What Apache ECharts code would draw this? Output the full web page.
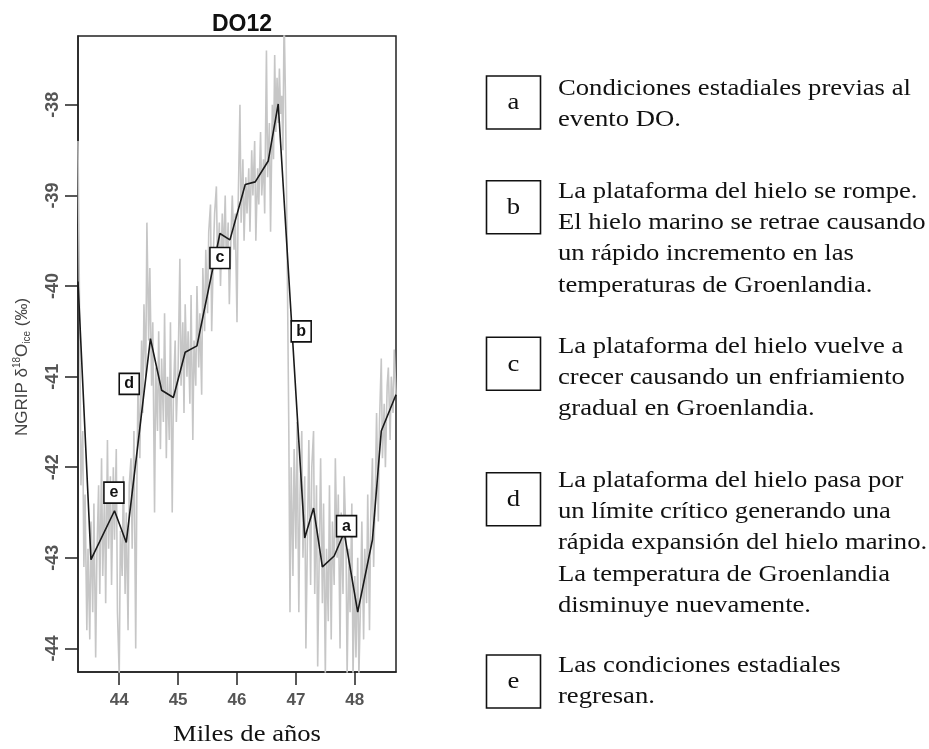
<!DOCTYPE html>
<html>
<head>
<meta charset="utf-8">
<script src="https://cdn.jsdelivr.net/npm/echarts@6/dist/echarts.min.js"></script>
<style>html,body{margin:0;padding:0;background:#fff;}#c{width:929px;height:749px;}</style>
</head>
<body>
<div id="c"></div>
<script>
// ---- data ----
var xTicks = [44, 45, 46, 47, 48];
var yTicks = [-44, -43, -42, -41, -40, -39, -38];

var grayX = [43.30,43.33,43.35,43.38,43.40,43.42,43.45,43.47,43.50,43.52,43.55,43.57,43.60,43.62,43.65,43.67,43.70,43.72,43.75,43.77,43.80,43.82,43.85,43.87,43.90,43.92,43.95,43.97,44.00,44.02,44.05,44.07,44.10,44.12,44.15,44.17,44.20,44.22,44.25,44.28,44.30,44.32,44.35,44.38,44.40,44.42,44.45,44.47,44.50,44.52,44.55,44.57,44.60,44.62,44.65,44.67,44.70,44.72,44.75,44.77,44.80,44.82,44.85,44.87,44.90,44.92,44.95,44.97,45.00,45.03,45.05,45.08,45.10,45.12,45.15,45.17,45.20,45.22,45.25,45.27,45.30,45.32,45.35,45.37,45.40,45.42,45.45,45.47,45.50,45.52,45.55,45.57,45.60,45.62,45.65,45.67,45.70,45.72,45.75,45.77,45.80,45.82,45.85,45.87,45.90,45.92,45.95,45.97,46.00,46.02,46.05,46.07,46.10,46.12,46.15,46.17,46.20,46.22,46.25,46.27,46.30,46.32,46.35,46.37,46.40,46.42,46.45,46.47,46.50,46.52,46.55,46.57,46.60,46.62,46.64,46.66,46.68,46.70,46.72,46.74,46.76,46.78,46.80,46.82,46.84,46.86,46.88,46.90,46.92,46.95,46.97,47.00,47.02,47.05,47.07,47.10,47.12,47.15,47.17,47.20,47.22,47.25,47.27,47.30,47.32,47.35,47.37,47.40,47.42,47.45,47.47,47.50,47.52,47.55,47.57,47.60,47.62,47.65,47.67,47.70,47.72,47.75,47.77,47.80,47.82,47.85,47.87,47.90,47.92,47.95,47.97,48.00,48.02,48.05,48.07,48.10,48.12,48.15,48.17,48.20,48.22,48.25,48.27,48.30,48.32,48.35,48.37,48.40,48.42,48.45,48.47,48.50,48.52,48.55,48.57,48.60,48.62,48.65,48.67,48.70];
var grayY = [-38.4,-40.5,-42.2,-41.6,-43.1,-42.3,-43.8,-42.9,-43.9,-42.6,-43.6,-42.4,-44.1,-43.0,-42.2,-43.4,-41.9,-43.2,-42.3,-43.5,-41.7,-42.9,-42.1,-43.3,-42.0,-42.8,-41.8,-43.6,-44.3,-42.7,-43.2,-42.1,-43.4,-42.5,-43.8,-42.2,-41.9,-42.9,-41.6,-44.0,-42.2,-41.0,-41.9,-40.6,-41.4,-40.2,-41.0,-39.3,-40.6,-39.8,-41.1,-40.4,-42.5,-40.9,-41.6,-40.5,-41.8,-40.8,-41.5,-40.3,-41.9,-41.0,-41.7,-40.4,-42.5,-41.2,-40.6,-41.5,-40.9,-39.7,-41.1,-40.4,-41.4,-40.2,-41.0,-40.5,-41.3,-40.1,-41.7,-40.6,-41.1,-40.0,-40.9,-40.3,-41.2,-39.8,-40.5,-39.6,-40.3,-39.4,-39.1,-40.5,-39.6,-39.2,-38.9,-39.8,-39.3,-40.0,-39.2,-39.7,-39.0,-39.8,-39.3,-40.2,-39.4,-39.0,-39.6,-39.2,-40.4,-39.1,-38.0,-39.3,-38.6,-39.5,-38.8,-39.2,-38.7,-39.4,-38.5,-39.0,-38.4,-39.5,-38.7,-39.1,-38.3,-39.0,-38.6,-39.2,-37.4,-38.8,-38.2,-39.4,-38.0,-38.6,-37.45,-38.3,-37.7,-38.2,-37.6,-38.1,-37.9,-38.5,-37.0,-37.8,-38.9,-40.2,-41.6,-43.6,-42.0,-43.2,-41.8,-42.9,-41.5,-43.6,-42.3,-41.6,-43.0,-42.1,-44.0,-42.6,-41.7,-43.3,-42.0,-41.6,-43.4,-42.2,-44.2,-42.8,-41.9,-43.5,-42.4,-44.3,-42.9,-43.7,-42.2,-43.9,-42.6,-43.3,-41.9,-43.0,-42.3,-44.0,-42.5,-43.4,-42.1,-42.8,-44.3,-42.9,-43.6,-42.4,-44.3,-43.2,-44.1,-43.0,-44.3,-43.4,-42.6,-43.9,-42.9,-43.5,-42.3,-43.8,-42.6,-41.9,-43.1,-42.2,-41.4,-42.6,-41.5,-40.8,-41.9,-41.3,-42.0,-41.1,-40.9,-41.7,-41.0,-41.4,-40.7,-41.2];

var meanX = [43.30,43.52,43.92,44.12,44.53,44.72,44.92,45.12,45.32,45.71,45.88,46.14,46.31,46.53,46.70,47.15,47.30,47.45,47.65,47.82,48.05,48.30,48.45,48.70];
var meanY = [-39.95,-43.02,-42.48,-42.83,-40.58,-41.15,-41.23,-40.73,-40.66,-39.42,-39.49,-38.88,-38.85,-38.62,-37.99,-42.78,-42.45,-43.10,-42.98,-42.72,-43.60,-42.80,-41.60,-41.20];

var markNames = ['a', 'b', 'c', 'd', 'e'];
var markX = [47.86, 47.09, 45.71, 44.17, 43.91];
var markY = [-42.65, -40.50, -39.69, -41.08, -42.28];

var legendKeys = ['a', 'b', 'c', 'd', 'e'];
var legendLines = [
  ['Condiciones estadiales previas al', 'evento DO.'],
  ['La plataforma del hielo se rompe.', 'El hielo marino se retrae causando', 'un rápido incremento en las', 'temperaturas de Groenlandia.'],
  ['La plataforma del hielo vuelve a', 'crecer causando un enfriamiento', 'gradual en Groenlandia.'],
  ['La plataforma del hielo pasa por', 'un límite crítico generando una', 'rápida expansión del hielo marino.', 'La temperatura de Groenlandia', 'disminuye nuevamente.'],
  ['Las condiciones estadiales', 'regresan.']
];
var titleText = 'DO12';
var xName = 'Miles de años';

// ---- build ----
function pairs(xs, ys) { return xs.map(function (x, i) { return [x, ys[i]]; }); }

var serif = '"Liberation Serif", "DejaVu Serif", serif';
var sans = '"Liberation Sans", Arial, sans-serif';
var wide = 1.11;

var boxTops = [76, 180.7, 337.3, 472.7, 655];
var firstBase = [96.7, 199.3, 354.3, 488.3, 673.3];
var lh = 31.4;
var gfx = [];
legendKeys.forEach(function (k, i) {
  gfx.push({ type: 'rect', shape: { x: 486.5, y: boxTops[i], width: 54, height: 53 },
    style: { fill: '#fff', stroke: '#111', lineWidth: 1.6 } });
  gfx.push({ type: 'text', x: 513.5, y: boxTops[i] + 39, scaleX: wide, style: { text: k, font: '24px ' + serif,
    fill: '#111', align: 'center', verticalAlign: 'bottom' } });
  legendLines[i].forEach(function (ln, j) {
    gfx.push({ type: 'text', x: 558, y: firstBase[i] + j * lh - 8, scaleX: wide, style: { text: ln,
      font: '24px ' + serif, fill: '#111', align: 'left', verticalAlign: 'middle' } });
  });
});
gfx.push({ type: 'text', x: 173, y: 735, scaleX: wide,
  style: { text: xName, font: '24px ' + serif, fill: '#111', align: 'left', verticalAlign: 'middle' } });
gfx.push({ type: 'text', x: 22, y: 367, rotation: Math.PI / 2,
  style: { text: 'NGRIP δ{sup|18}O{sub|ice} (‰)', font: '17px ' + sans, fill: '#444',
    align: 'center', verticalAlign: 'middle',
    rich: { sup: { fontSize: 10, fill: '#444', verticalAlign: 'top', lineHeight: 20 },
            sub: { fontSize: 10, fill: '#444', verticalAlign: 'bottom', lineHeight: 20 } } } });

var chart = echarts.init(document.getElementById('c'));
chart.setOption({
  animation: false,
  backgroundColor: '#fff',
  title: { text: titleText, left: 237, top: 8, textAlign: 'center',
    textStyle: { fontFamily: sans, fontWeight: 'bold', fontSize: 23, color: '#111' } },
  grid: { left: 78, top: 36, width: 318, height: 636, show: true, borderColor: '#222', borderWidth: 1.5, backgroundColor: 'transparent' },
  xAxis: {
    type: 'value', min: 43.3, max: 48.7,
    axisLine: { show: true, lineStyle: { color: '#222', width: 1.5 } },
    axisTick: { show: true, length: 13, lineStyle: { color: '#222', width: 1.5 }, customValues: xTicks },
    axisLabel: { margin: 20, fontFamily: sans, fontSize: 17, fontWeight: 'bold', color: '#555', customValues: xTicks },
    splitLine: { show: false }
  },
  yAxis: {
    type: 'value', min: -44.26, max: -37.24,
    axisLine: { show: true, lineStyle: { color: '#222', width: 1.5 } },
    axisTick: { show: true, length: 13, lineStyle: { color: '#222', width: 1.5 }, customValues: yTicks },
    axisLabel: { margin: 16, rotate: 90, fontFamily: sans, fontSize: 18, fontWeight: 'bold', color: '#555', customValues: yTicks },
    splitLine: { show: false }
  },
  graphic: gfx,
  series: [
    { type: 'line', data: pairs(grayX, grayY), showSymbol: false, symbol: 'none', clip: true,
      lineStyle: { color: '#c6c6c6', width: 1.6 }, z: 2 },
    { type: 'line', data: pairs(meanX, meanY), showSymbol: false, symbol: 'none', clip: true,
      lineStyle: { color: '#1a1a1a', width: 1.6 }, z: 3 },
    { type: 'scatter', data: pairs(markX, markY), symbol: 'rect', symbolSize: [20, 21], z: 4,
      itemStyle: { color: '#fff', borderColor: '#111', borderWidth: 1.6, opacity: 1 },
      label: { show: true, position: 'inside', fontFamily: sans, fontWeight: 'bold', fontSize: 16, color: '#111',
        formatter: function (p) { return markNames[p.dataIndex]; } } }
  ]
});
</script>
</body>
</html>
